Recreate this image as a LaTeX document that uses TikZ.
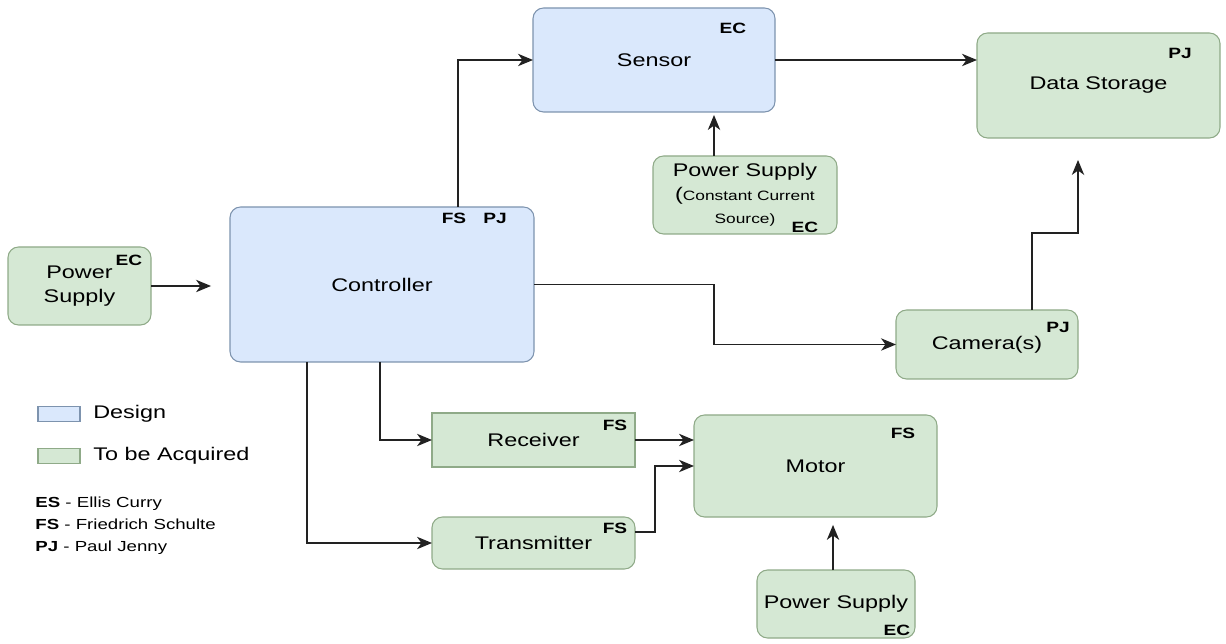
\documentclass[tikz,border=0pt]{standalone}
\usepackage{fontspec}
\setmainfont{Liberation Sans}[FakeStretch=1.28]
\usetikzlibrary{arrows.meta}

\definecolor{dsgnfill}{HTML}{DAE8FC}
\definecolor{dsgnline}{HTML}{7D93AE}
\definecolor{acqfill}{HTML}{D5E8D4}
\definecolor{acqline}{HTML}{8FAA88}
\definecolor{wirec}{HTML}{222222}
\newcommand{\px}{0.02cm}

\tikzset{
  blk/.style n args={2}{draw, rounded corners=6pt, line width=0.6pt,
    minimum width=#1*\px, minimum height=#2*\px, inner sep=0pt, outer sep=0pt,
    align=center, font=\fontsize{10.4}{13.5}\selectfont},
  dsgn/.style={fill=dsgnfill, draw=dsgnline},
  acq/.style={fill=acqfill, draw=acqline},
  tag/.style={font=\bfseries\fontsize{8.5}{10}\selectfont, inner sep=0pt},
  wire/.style={draw=wirec, line width=0.95pt, -{Stealth[length=8.5pt,width=7pt,inset=2.5pt]}},
  keytxt/.style={anchor=west, inner sep=0pt, font=\fontsize{10.4}{12}\selectfont},
  nametxt/.style={anchor=base west, inner sep=0pt, font=\fontsize{8.3}{10}\selectfont},
}

\begin{document}
\begin{tikzpicture}[x=0.02cm, y=-0.02cm]
    \useasboundingbox (0,0) rectangle (1226,644);
    %\draw[very thin,color=gray] (0,0) grid[step=50] (1226,644);

    % blocks
    \node[blk={143}{78}, acq] (psL) at (79.5,286) {Power\\Supply};
    \node[blk={304}{155}, dsgn] (ctrl) at (382,284.5) {Controller};
    \node[blk={242}{104}, dsgn] (sensor) at (654,60) {Sensor};
    \node[blk={184}{78}, acq] (psC) at (745,195)
        {Power Supply\\(\fontsize{7.7}{9}\selectfont Constant Current\\\fontsize{7.7}{9}\selectfont Source)};
    \node[blk={243}{105}, acq] (store) at (1098.5,85.5) {Data Storage};
    \node[blk={182}{69}, acq] (cam) at (987,344.5) {Camera(s)};
    \node[blk={203}{54}, acq, sharp corners] (recv) at (533.5,440) {Receiver};
    \node[blk={203}{52}, acq] (trans) at (533.5,543) {Transmitter};
    \node[blk={243}{102}, acq] (motor) at (815.5,466) {Motor};
    \node[blk={158}{68}, acq] (psM) at (836,604) {Power Supply};

    % initials
    \node[tag] (tpsL) at (129,260) {EC};
    \node[tag] (tctrlA) at (454,218) {FS};
    \node[tag] (tctrlB) at (495,218) {PJ};
    \node[tag] (tsensor) at (733,28) {EC};
    \node[tag] (tpsC) at (805,227) {EC};
    \node[tag] (tstore) at (1180,53) {PJ};
    \node[tag] (tcam) at (1058,327) {PJ};
    \node[tag] (trecv) at (615,425) {FS};
    \node[tag] (ttrans) at (615,528) {FS};
    \node[tag] (tmotor) at (903,433) {FS};
    \node[tag] (tpsM) at (897,630) {EC};

    % connectors
    \draw[wire, shorten >=10.8pt] (psL.east) -- (psL.east -| ctrl.west);
    \draw[wire] ([xshift=76*\px]ctrl.north) |- (sensor.west);
    \draw[wire] (sensor.east) -- (sensor.east -| store.west);
    \draw[wire, shorten >=1.7pt] ([xshift=-31*\px]psC.north) coordinate (pcs) -- (pcs |- sensor.south);
    \draw[wire] (ctrl.east) -| (pcs |- cam.west) -- (cam.west);
    \draw[wire, shorten >=12.5pt] ([xshift=45*\px]cam.north) -- ++(0,-77) -| ([xshift=-20.5*\px]store.south);
    \draw[wire] ([xshift=-2*\px]ctrl.south) |- (recv.west);
    \draw[wire] ([xshift=-75*\px]ctrl.south) |- (trans.west);
    \draw[wire] (recv.east) -- (recv.east -| motor.west);
    \draw[wire] ([yshift=11*\px]trans.east) -- ++(20,0) |- (motor.west);
    \draw[wire, shorten >=4.5pt] ([xshift=-3*\px]psM.north) coordinate (pms) -- (pms |- motor.south);

    % legend
    \node[draw=dsgnline, fill=dsgnfill, line width=0.6pt, inner sep=0pt,
          minimum width=42*\px, minimum height=15*\px] (keyD) at (59,414) {};
    \node[draw=acqline, fill=acqfill, line width=0.6pt, inner sep=0pt,
          minimum width=42*\px, minimum height=15*\px] (keyA) at (59,456) {};
    \node[keytxt] (keyDtxt) at (93,414) {Design};
    \node[keytxt] (keyAtxt) at (93,456) {To be Acquired};
    \node[nametxt] (nmES) at (35,507) {\textbf{ES} - Ellis Curry};
    \node[nametxt] (nmFS) at (35,529) {\textbf{FS} - Friedrich Schulte};
    \node[nametxt] (nmPJ) at (35,551) {\textbf{PJ} - Paul Jenny};
\end{tikzpicture}
\end{document}
